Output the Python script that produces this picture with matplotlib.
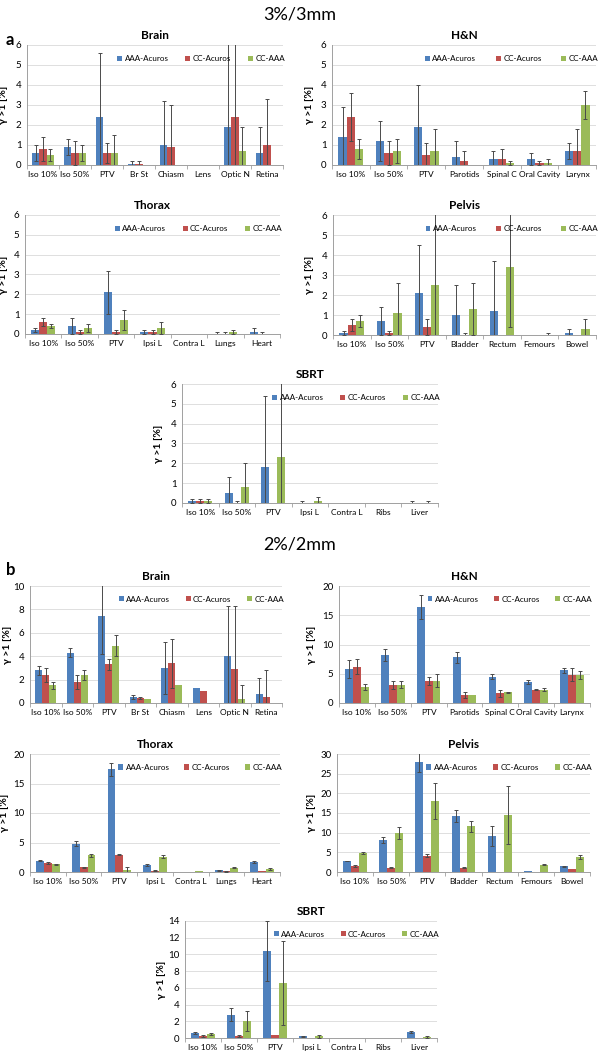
import matplotlib
matplotlib.use("Agg")
import matplotlib.pyplot as plt
import numpy as np

plt.rcParams['font.family'] = ['Lato', 'DejaVu Sans']

SERIES = ["AAA-Acuros", "CC-Acuros", "CC-AAA"]
COLORS = ["#4F81BD", "#C0504D", "#9BBB59"]

brain_cats = ["Iso 10%", "Iso 50%", "PTV", "Br St", "Chiasm", "Lens", "Optic N", "Retina"]
hn_cats = ["Iso 10%", "Iso 50%", "PTV", "Parotids", "Spinal C", "Oral Cavity", "Larynx"]
thorax_cats = ["Iso 10%", "Iso 50%", "PTV", "Ipsi L", "Contra L", "Lungs", "Heart"]
pelvis_cats = ["Iso 10%", "Iso 50%", "PTV", "Bladder", "Rectum", "Femours", "Bowel"]
sbrt_cats = ["Iso 10%", "Iso 50%", "PTV", "Ipsi L", "Contra L", "Ribs", "Liver"]

# ---- (a) 3%/3mm ----
brain_a_vals = [[0.6, 0.9, 2.4, 0.05, 1.0, 0, 1.9, 0.6],
                [0.8, 0.6, 0.6, 0.05, 0.9, 0, 2.4, 1.0],
                [0.5, 0.6, 0.6, 0, 0, 0, 0.7, 0]]
brain_a_err = [[0.4, 0.4, 3.2, 0.15, 2.2, 0, 5.0, 1.3],
               [0.6, 0.6, 0.5, 0.15, 2.1, 0, 4.0, 2.3],
               [0.3, 0.4, 0.9, 0, 0, 0, 1.2, 0]]

hn_a_vals = [[1.4, 1.2, 1.9, 0.4, 0.3, 0.3, 0.7],
             [2.4, 0.6, 0.5, 0.2, 0.3, 0.1, 0.7],
             [0.8, 0.7, 0.7, 0, 0.1, 0.1, 3.0]]
hn_a_err = [[1.5, 1.0, 2.1, 0.8, 0.4, 0.3, 0.4],
            [1.2, 0.6, 0.6, 0.5, 0.5, 0.1, 1.1],
            [0.5, 0.6, 1.1, 0, 0.1, 0.2, 0.7]]

thorax_a_vals = [[0.2, 0.4, 2.1, 0.1, 0, 0.02, 0.1],
                 [0.6, 0.1, 0.1, 0.1, 0, 0.02, 0],
                 [0.4, 0.3, 0.7, 0.3, 0, 0.1, 0.02]]
thorax_a_err = [[0.1, 0.4, 1.1, 0.1, 0, 0.08, 0.2],
                [0.2, 0.1, 0.1, 0.1, 0, 0.08, 0.08],
                [0.1, 0.2, 0.5, 0.3, 0, 0.1, 0]]

pelvis_a_vals = [[0.1, 0.7, 2.1, 1.0, 1.2, 0, 0.1],
                 [0.5, 0.1, 0.4, 0.02, 0, 0, 0],
                 [0.7, 1.1, 2.5, 1.3, 3.4, 0.02, 0.3]]
pelvis_a_err = [[0.1, 0.7, 2.4, 1.5, 2.5, 0, 0.2],
                [0.3, 0.1, 0.4, 0.08, 0, 0, 0],
                [0.3, 1.5, 4.0, 1.3, 3.0, 0.08, 0.5]]

sbrt_a_vals = [[0.1, 0.5, 1.8, 0, 0, 0, 0],
               [0.1, 0.02, 0, 0, 0, 0, 0],
               [0.1, 0.8, 2.3, 0.1, 0, 0, 0.02]]
sbrt_a_err = [[0.1, 0.8, 3.6, 0.08, 0, 0, 0.08],
              [0.1, 0.08, 0, 0, 0, 0, 0],
              [0.1, 1.2, 4.0, 0.2, 0, 0, 0.08]]

# ---- (b) 2%/2mm ----
brain_b_vals = [[2.8, 4.3, 7.4, 0.5, 3.0, 1.3, 4.0, 0.8],
                [2.4, 1.8, 3.3, 0.4, 3.4, 1.0, 2.9, 0.5],
                [1.5, 2.4, 4.9, 0.3, 1.5, 0, 0.3, 0]]
brain_b_err = [[0.4, 0.4, 3.2, 0.15, 2.2, 0, 4.3, 1.3],
               [0.6, 0.6, 0.5, 0.1, 2.1, 0, 5.4, 2.3],
               [0.3, 0.4, 0.9, 0, 0, 0, 1.2, 0]]

hn_b_vals = [[5.8, 8.2, 16.4, 7.8, 4.5, 3.6, 5.6],
             [6.2, 3.1, 3.7, 1.4, 1.7, 2.3, 4.8],
             [2.7, 3.1, 3.8, 1.4, 1.8, 2.3, 4.8]]
hn_b_err = [[1.6, 1.1, 2.1, 0.9, 0.4, 0.3, 0.4],
            [1.3, 0.7, 0.7, 0.5, 0.6, 0.1, 1.1],
            [0.5, 0.6, 1.1, 0, 0.1, 0.2, 0.7]]

thorax_b_vals = [[1.9, 4.8, 17.4, 1.2, 0, 0.3, 1.7],
                 [1.5, 0.8, 2.9, 0.2, 0, 0.1, 0.1],
                 [1.3, 2.8, 0.3, 2.6, 0.1, 0.7, 0.5]]
thorax_b_err = [[0.1, 0.4, 1.1, 0.1, 0, 0.1, 0.2],
                [0.2, 0.1, 0.1, 0.1, 0, 0.1, 0],
                [0.1, 0.3, 0.5, 0.3, 0, 0.1, 0.1]]

pelvis_b_vals = [[2.8, 8.2, 27.9, 14.3, 9.1, 0.3, 1.4],
                 [1.5, 1.1, 4.1, 1.1, 0, 0, 0.8],
                 [4.8, 10.0, 18.1, 11.6, 14.5, 1.9, 3.8]]
pelvis_b_err = [[0.1, 0.7, 2.4, 1.5, 2.5, 0, 0.2],
                [0.3, 0.1, 0.4, 0.1, 0, 0, 0],
                [0.3, 1.5, 4.6, 1.4, 7.3, 0.1, 0.6]]

sbrt_b_vals = [[0.6, 2.8, 10.4, 0.2, 0, 0, 0.7],
               [0.2, 0.2, 0.3, 0, 0, 0, 0],
               [0.5, 2.0, 6.6, 0.2, 0, 0, 0.1]]
sbrt_b_err = [[0.1, 0.8, 3.6, 0.08, 0, 0, 0.08],
              [0.1, 0.1, 0, 0, 0, 0, 0],
              [0.1, 1.2, 5.0, 0.2, 0, 0, 0.08]]

W, H = 600, 1055
fig = plt.figure(figsize=(W / 100, H / 100), dpi=100)


def px_axes(left, top, right, bottom):
    return fig.add_axes([left / W, 1 - bottom / H, (right - left) / W, (bottom - top) / H])


def panel(box, ylab_px, title, cats, vals, errs, ymax, ystep):
    ax = px_axes(*box)
    n = len(cats)
    x = np.arange(n)
    bw = 0.22
    for k in range(3):
        xs = x + (k - 1) * bw
        v = np.array(vals[k], dtype=float)
        e = np.array(errs[k], dtype=float)
        ax.bar(xs, v, width=bw, color=COLORS[k], label=SERIES[k], zorder=2)
        m = e > 0
        ax.errorbar(xs[m], v[m], yerr=e[m], fmt='none', ecolor='#4a4a4a',
                    elinewidth=0.7, capsize=1.5, capthick=0.7, zorder=3)
    ax.set_xlim(-0.5, n - 0.5)
    ax.set_ylim(0, ymax)
    ax.set_yticks(np.arange(0, ymax + ystep / 2, ystep))
    ax.yaxis.grid(True, color='#d9d9d9', linewidth=0.6, zorder=0)
    ax.set_axisbelow(True)
    ax.set_xticks(x)
    ax.set_xticklabels(cats, fontsize=6.0)
    ax.set_xticks(np.arange(-0.5, n, 1.0), minor=True)
    ax.tick_params(axis='x', which='major', length=0, pad=4)
    ax.tick_params(axis='x', which='minor', length=3, color='#a0a0a0', width=0.6)
    ax.tick_params(axis='y', labelsize=7, length=0, pad=4)
    for s in ('top', 'right'):
        ax.spines[s].set_visible(False)
    for s in ('left', 'bottom'):
        ax.spines[s].set_color('#a0a0a0')
        ax.spines[s].set_linewidth(0.7)
    ax.set_ylabel("γ >1 [%]", fontsize=7.5, fontweight='bold')
    ax.yaxis.set_label_coords((ylab_px - box[0]) / (box[2] - box[0]), 0.5)
    ax.set_title(title, fontsize=8.5, fontweight='bold', pad=4)
    ax.legend(loc='lower left', bbox_to_anchor=(0.34, 0.83, 0.68, 0.12), mode='expand',
              ncol=3, fontsize=5.8, frameon=False, handlelength=0.6, handleheight=0.6,
              handletextpad=0.3, borderaxespad=0)
    return ax


fig.text(0.5, 1 - 15 / H, "3%/3mm", ha='center', va='center', fontsize=13)
fig.text(6 / W, 1 - 40 / H, "a", ha='left', va='center', fontsize=12, fontweight='bold')
fig.text(0.5, 1 - 545 / H, "2%/2mm", ha='center', va='center', fontsize=13)
fig.text(6 / W, 1 - 570 / H, "b", ha='left', va='center', fontsize=12, fontweight='bold')

panel((27, 45, 283, 165), 8, "Brain", brain_cats, brain_a_vals, brain_a_err, 6, 1)
panel((332, 45, 596, 165), 314, "H&N", hn_cats, hn_a_vals, hn_a_err, 6, 1)
panel((25, 215, 280, 334), 8, "Thorax", thorax_cats, thorax_a_vals, thorax_a_err, 6, 1)
panel((333, 215, 596, 335), 314, "Pelvis", pelvis_cats, pelvis_a_vals, pelvis_a_err, 6, 1)
panel((182, 384, 438, 503), 163, "SBRT", sbrt_cats, sbrt_a_vals, sbrt_a_err, 6, 1)

panel((30, 586, 282, 703), 12, "Brain", brain_cats, brain_b_vals, brain_b_err, 10, 2)
panel((339, 586, 590, 703), 316, "H&N", hn_cats, hn_b_vals, hn_b_err, 20, 5)
panel((30, 754, 280, 872), 9, "Thorax", thorax_cats, thorax_b_vals, thorax_b_err, 20, 5)
panel((337, 754, 590, 872), 316, "Pelvis", pelvis_cats, pelvis_b_vals, pelvis_b_err, 30, 5)
panel((185, 921, 437, 1038), 166, "SBRT", sbrt_cats, sbrt_b_vals, sbrt_b_err, 14, 2)

fig.savefig("out.png", dpi=100, facecolor='white')
